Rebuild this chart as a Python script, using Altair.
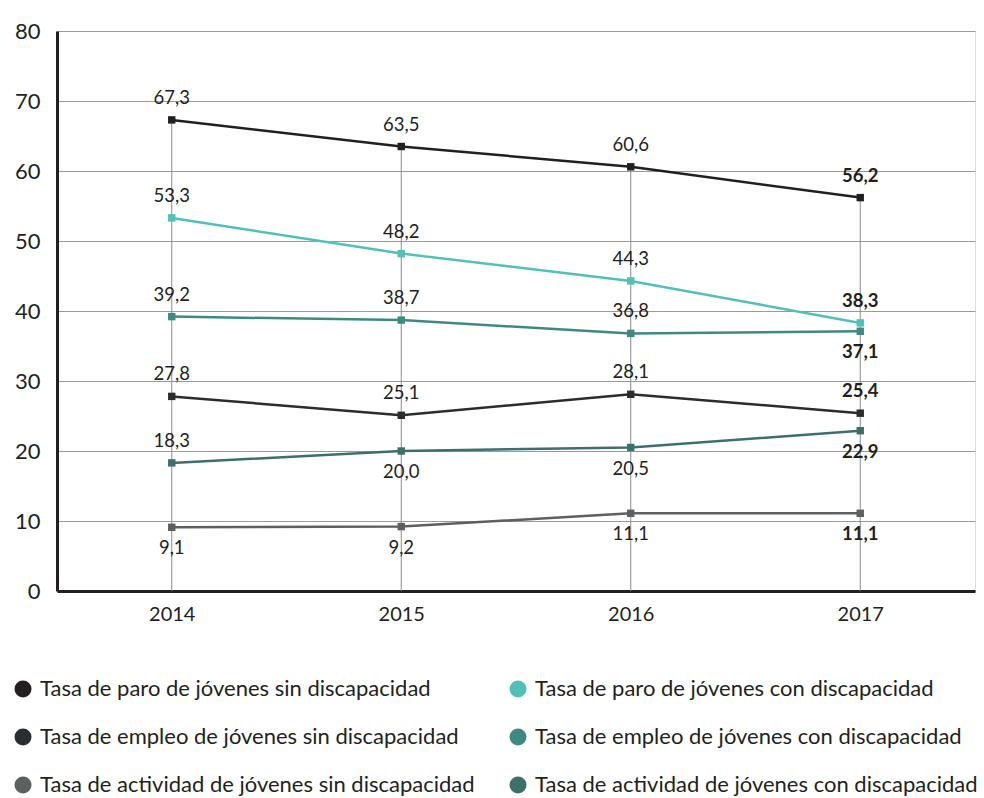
import altair as alt
import pandas as pd

years = ["2014", "2015", "2016", "2017"]
series = [
    "Tasa de paro de jóvenes sin discapacidad",
    "Tasa de empleo de jóvenes sin discapacidad",
    "Tasa de actividad de jóvenes sin discapacidad",
    "Tasa de paro de jóvenes con discapacidad",
    "Tasa de empleo de jóvenes con discapacidad",
    "Tasa de actividad de jóvenes con discapacidad",
]
colors = ["#231f20", "#2a2d30", "#5c6060", "#4fc1b9", "#3e8a83", "#3d706b"]
values = [
    [67.3, 63.5, 60.6, 56.2],
    [27.8, 25.1, 28.1, 25.4],
    [9.1, 9.2, 11.1, 11.1],
    [53.3, 48.2, 44.3, 38.3],
    [39.2, 38.7, 36.8, 37.1],
    [18.3, 20.0, 20.5, 22.9],
]
# label placement: 1 = above the point, 0 = below
above = [
    [1, 1, 1, 1],
    [1, 1, 1, 1],
    [0, 0, 0, 0],
    [1, 1, 1, 1],
    [1, 1, 1, 0],
    [1, 0, 0, 0],
]

rows = []
for s, vals, ab in zip(series, values, above):
    for y, v, a in zip(years, vals, ab):
        rows.append({"serie": s, "year": y, "value": v, "above": a,
                     "label": f"{v:.1f}".replace(".", ","),
                     "last": y == years[-1]})
df = pd.DataFrame(rows)

FONT = "Lato"
x = alt.X("year:O", scale=alt.Scale(type="point", padding=0.5),
          axis=alt.Axis(title=None, labelAngle=0, labelFontSize=20, labelPadding=13,
                        ticks=False, grid=False, domainColor="#231f20", domainWidth=3,
                        labelColor="#231f20", labelFont=FONT))
y = alt.Y("value:Q", scale=alt.Scale(domain=[0, 80], nice=False),
          axis=alt.Axis(title=None, values=[0, 10, 20, 30, 40, 50, 60, 70, 80],
                        labelFontSize=22, labelPadding=17, ticks=False, grid=True,
                        gridColor="#9a9a9a", gridWidth=1, domainColor="#231f20",
                        domainWidth=3, labelColor="#231f20", labelFont=FONT))
legend = alt.Legend(title=None, orient="none", legendX=-45, legendY=647,
                    columns=2, symbolType="circle", symbolSize=290,
                    labelFontSize=22, labelFont=FONT, labelColor="#231f20",
                    columnPadding=32, rowPadding=26, labelLimit=600,
                    symbolStrokeWidth=0, labelOffset=6)
color = alt.Color("serie:N", scale=alt.Scale(domain=series, range=colors),
                  sort=series, legend=legend)

base = alt.Chart(df)

drop = base.transform_filter(alt.datum.serie == series[0]).mark_rule(
    color="#8a8a8a", strokeWidth=1).encode(x=x, y=y, y2=alt.datum(0))

lines = base.mark_line(strokeWidth=2.5).encode(x=x, y=y, color=color, detail="serie:N")

squares = base.mark_square(size=55, opacity=1, filled=True).encode(x=x, y=y, color=color)

def labels(flag, bold, dy):
    return base.transform_filter(
        (alt.datum.above == flag) & (alt.datum.last == bold)
    ).mark_text(fontSize=18.5, font=FONT, color="#231f20", dy=dy,
                fontWeight="bold" if bold else "normal").encode(x=x, y=y, text="label:N")

chart = alt.layer(
    drop, lines, squares,
    labels(1, False, -22), labels(0, False, 21),
    labels(1, True, -22), labels(0, True, 21),
).properties(
    width=918, height=560,
    autosize=alt.AutoSizeParams(type="none"),
    padding={"left": 57, "top": 31, "right": 9, "bottom": 207},
).configure_view(stroke=None).configure(background="white")

chart.save("out.html", embed_options={"renderer": "svg", "actions": False})
